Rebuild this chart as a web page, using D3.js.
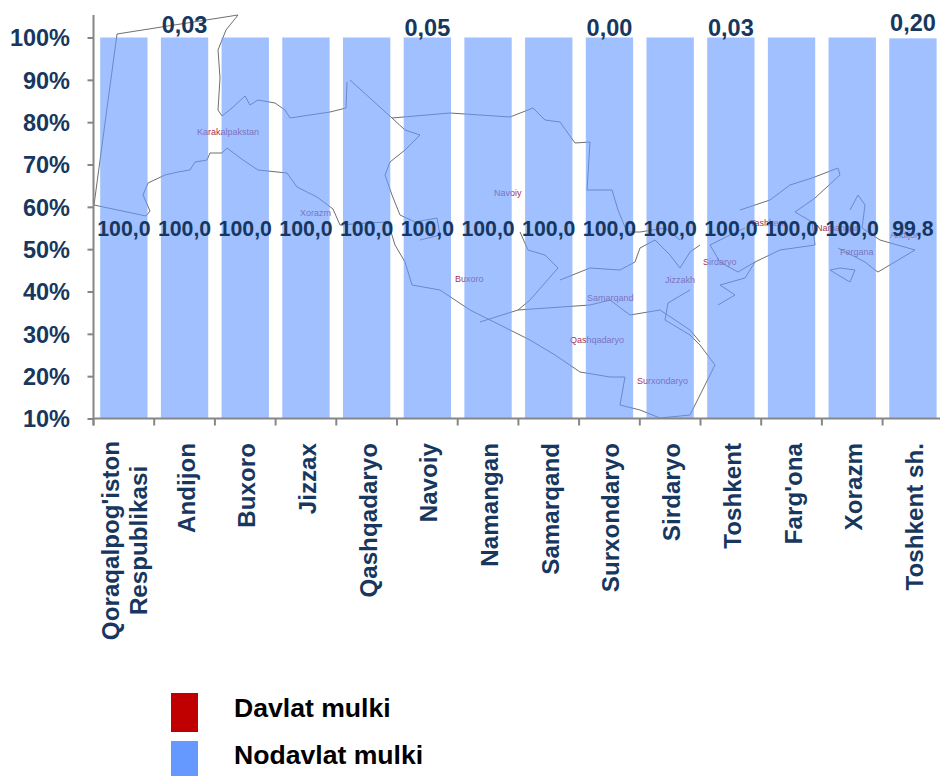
<!DOCTYPE html>
<html>
<head>
<meta charset="utf-8">
<script src="https://d3js.org/d3.v7.min.js"></script>
<style>
  html, body { margin: 0; padding: 0; background: #fff; }
  svg { display: block; }
  text { font-family: "Liberation Sans", Arial, sans-serif; font-weight: bold; }
</style>
</head>
<body>
<script>
(function () {
  "use strict";

  var categories = ["Qoraqalpog'iston Respublikasi", "Andijon", "Buxoro", "Jizzax", "Qashqadaryo",
    "Navoiy", "Namangan", "Samarqand", "Surxondaryo", "Sirdaryo", "Toshkent", "Farg'ona", "Xorazm", "Toshkent sh."];
  var nodavlat = [100, 100, 100, 100, 100, 100, 100, 100, 100, 100, 100, 100, 100, 99.8];
  var nodavlatLabels = ["100,0", "100,0", "100,0", "100,0", "100,0", "100,0", "100,0", "100,0", "100,0", "100,0", "100,0", "100,0", "100,0", "99,8"];
  // only some of the regions have a printed state-owned share
  var davlatLabels = [null, "0,03", null, null, null, "0,05", null, null, "0,00", null, "0,03", null, null, "0,20"];
  var davlatLift = [0, 2.5, 0, 0, 0, 0, 0, 0, 0, 0, 0, 0, 0, 5];
  var yTicks = [10, 20, 30, 40, 50, 60, 70, 80, 90, 100];
  var legendNames = ["Davlat mulki", "Nodavlat mulki"];
  var legendColors = ["#C00000", "#6699FF"];

  // background picture of the country, in page pixels, it has no data in it
  var mapLines = [
    [[238, 15], [117, 34], [94, 205], [146, 216], [150, 211], [143, 195], [148, 183], [165, 175], [178, 172], [190, 170], [195, 162], [207, 160], [210, 153], [222, 153], [227, 148], [243, 160], [258, 170], [287, 173], [297, 187], [317, 197], [333, 209], [340, 225], [367, 223], [388, 222], [395, 245], [405, 262], [412, 285], [440, 290], [470, 310], [510, 330], [530, 340], [555, 355], [580, 372], [610, 377], [625, 377], [620, 405], [640, 410], [660, 418], [690, 415], [700, 395], [715, 365], [700, 345], [690, 335], [665, 320], [668, 303], [690, 290]],
    [[238, 15], [226, 30], [218, 50], [220, 78], [218, 110], [222, 116], [232, 108], [245, 96], [250, 105], [258, 100], [275, 103], [285, 110], [290, 118], [310, 115], [330, 112], [346, 108], [347, 82]],
    [[350, 80], [392, 118], [405, 130], [420, 135], [405, 150], [390, 162], [385, 175], [392, 195], [400, 215], [415, 222], [437, 218], [440, 235], [420, 240]],
    [[392, 118], [450, 113], [510, 117], [533, 108], [545, 120], [560, 122], [575, 143], [590, 142], [587, 190], [612, 190], [618, 210], [627, 232], [640, 232], [665, 228], [680, 240]],
    [[520, 232], [528, 250], [545, 255], [558, 268], [530, 300], [518, 310], [480, 322]],
    [[518, 310], [590, 305], [610, 300], [630, 315], [660, 310], [690, 330], [700, 342]],
    [[560, 280], [590, 268], [620, 270], [635, 262], [640, 248], [655, 240], [670, 255], [680, 268], [690, 252], [700, 245]],
    [[740, 210], [770, 200], [790, 185], [812, 178], [838, 168], [840, 175], [815, 198], [795, 212], [812, 222], [815, 245], [780, 250], [755, 262], [745, 278], [720, 285], [735, 295], [718, 305]],
    [[755, 262], [738, 272], [720, 262], [710, 245], [730, 235], [745, 228]],
    [[838, 248], [865, 262], [875, 270], [878, 272], [915, 250], [880, 240], [862, 228], [865, 205], [858, 195], [850, 210]],
    [[830, 270], [838, 275], [850, 282], [855, 270], [840, 268], [830, 270]]
  ];
  var mapNames = [["Karakalpakstan", 197, 135], ["Xorazm", 300, 216], ["Navoiy", 494, 196], ["Buxoro", 455, 282],
    ["Samarqand", 587, 301], ["Jizzakh", 665, 283], ["Sirdaryo", 703, 265], ["Qashqadaryo", 570, 343],
    ["Surxondaryo", 637, 384], ["Tashkent", 750, 226], ["Namangan", 816, 231], ["Fergana", 840, 255], ["Andijon", 890, 238]];

  var width = 940,
      height = 776,
      axisColor = "#868686",
      textColor = "#17375E";

  var svg = d3.select("body").append("svg")
      .attr("width", width)
      .attr("height", height);

  var x = d3.scaleBand()
      .domain(categories)
      .range([93.5, 943.3])
      .paddingInner(0.22)
      .paddingOuter(0.11);

  var y = d3.scaleLinear()
      .domain([10, 100])
      .range([418.5, 37.5]);

  // map goes under the bars, the bars are see-through
  var mapLine = d3.line();
  svg.append("g").selectAll("path")
      .data(mapLines)
      .enter()
    .append("path")
      .attr("d", mapLine)
      .attr("fill", "none")
      .attr("stroke", "#6f6f6f")
      .attr("stroke-width", 1);
  svg.append("g").selectAll("text")
      .data(mapNames)
      .enter()
    .append("text")
      .attr("x", function (d) { return d[1]; })
      .attr("y", function (d) { return d[2]; })
      .attr("fill", "#a5324f")
      .style("font-size", "9px")
      .style("font-weight", "normal")
      .text(function (d) { return d[0]; });

  svg.append("g").selectAll("rect")
      .data(nodavlat)
      .enter()
    .append("rect")
      .attr("x", function (d, i) { return x(categories[i]); })
      .attr("y", function (d) { return y(d); })
      .attr("width", x.bandwidth())
      .attr("height", function (d) { return y(10) - y(d); })
      .attr("fill", "#6699FF")
      .attr("fill-opacity", 0.62);

  // axes
  var yAxis = svg.append("g")
      .attr("transform", "translate(93.5,0)")
      .call(d3.axisLeft(y).tickValues(yTicks).tickSizeInner(6).tickSizeOuter(0).tickPadding(17.5)
        .tickFormat(function (d) { return d + "%"; }));
  yAxis.select(".domain").remove();
  yAxis.selectAll("line").attr("stroke", axisColor).attr("stroke-width", 2);
  yAxis.selectAll("text")
      .attr("fill", textColor)
      .style("font-size", "23.5px")
      .attr("dy", "0.36em");
  svg.append("line")
      .attr("x1", 93.5).attr("x2", 93.5)
      .attr("y1", 15).attr("y2", y(10) + 7)
      .attr("stroke", axisColor)
      .attr("stroke-width", 2);
  svg.append("line")
      .attr("x1", 93.5).attr("x2", width)
      .attr("y1", y(10)).attr("y2", y(10))
      .attr("stroke", axisColor)
      .attr("stroke-width", 2);
  svg.append("g").selectAll("line")
      .data(categories)
      .enter()
    .append("line")
      .attr("x1", function (d) { return x(d) - x.step() * x.paddingOuter(); })
      .attr("x2", function (d) { return x(d) - x.step() * x.paddingOuter(); })
      .attr("y1", y(10))
      .attr("y2", y(10) + 7)
      .attr("stroke", axisColor)
      .attr("stroke-width", 2);

  // value labels
  svg.append("g").selectAll("text")
      .data(nodavlatLabels)
      .enter()
    .append("text")
      .attr("x", function (d, i) { return x(categories[i]) + x.bandwidth() / 2; })
      .attr("y", function (d, i) { return y((10 + nodavlat[i]) / 2); })
      .attr("dy", "0.36em")
      .attr("text-anchor", "middle")
      .attr("fill", textColor)
      .style("font-size", "21.3px")
      .text(function (d) { return d; });
  svg.append("g").selectAll("text")
      .data(davlatLabels)
      .enter()
    .append("text")
      .attr("x", function (d, i) { return x(categories[i]) + x.bandwidth() / 2; })
      .attr("y", function (d, i) { return y(100) - 2 - davlatLift[i]; })
      .attr("text-anchor", "middle")
      .attr("fill", textColor)
      .style("font-size", "23.5px")
      .text(function (d) { return d; });

  // category labels, the long one breaks in two lines
  var labels = svg.append("g").selectAll("text")
      .data(categories)
      .enter()
    .append("text")
      .attr("fill", textColor)
      .style("font-size", "24.2px");
  labels.filter(function (d, i) { return i > 0; })
      .attr("text-anchor", "end")
      .attr("transform", function (d) {
        return "translate(" + (x(d) + x.bandwidth() / 2 + 10) + ",443) rotate(-90)";
      })
      .text(function (d) { return d; });
  var first = labels.filter(function (d, i) { return i === 0; })
      .attr("text-anchor", "middle")
      .attr("transform", "translate(" + (x(categories[0]) + x.bandwidth() / 2 - 5) + ",540.5) rotate(-90)");
  first.selectAll("tspan")
      .data(categories[0].split(" "))
      .enter()
    .append("tspan")
      .attr("x", 0)
      .attr("dy", function (d, i) { return i ? 28 : 0; })
      .text(function (d) { return d; });

  // legend
  var legend = svg.append("g").selectAll("g")
      .data(legendNames)
      .enter()
    .append("g");
  legend.append("rect")
      .attr("x", 171)
      .attr("y", function (d, i) { return i ? 741 : 693; })
      .attr("width", 27)
      .attr("height", function (d, i) { return i ? 35 : 39; })
      .attr("fill", function (d, i) { return legendColors[i]; });
  legend.append("text")
      .attr("x", 234)
      .attr("y", function (d, i) { return i ? 764 : 717; })
      .attr("fill", "#000")
      .style("font-size", "26.6px")
      .text(function (d) { return d; });
}());
</script>
</body>
</html>
